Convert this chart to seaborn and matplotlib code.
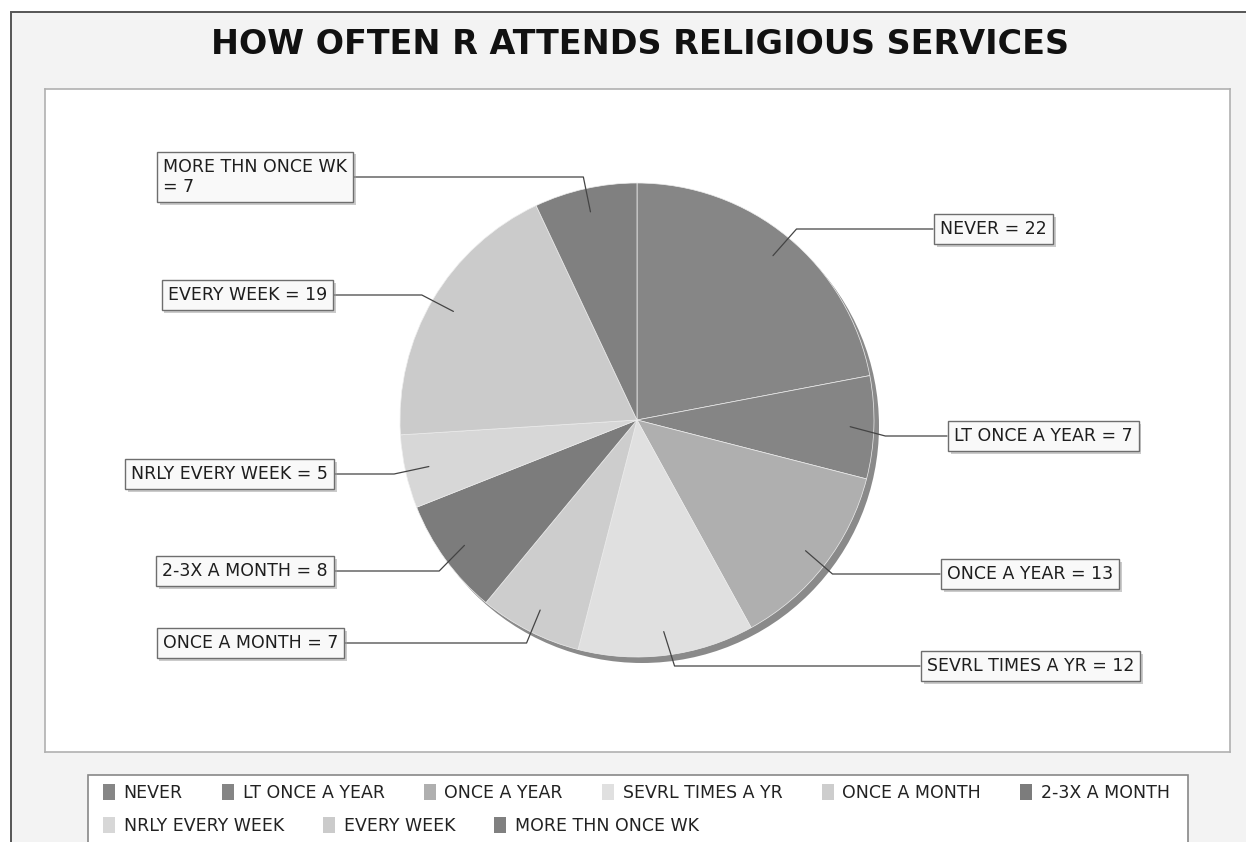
import matplotlib
matplotlib.use("Agg")
import matplotlib.pyplot as plt
import seaborn as sns
import numpy as np
from matplotlib.patches import Rectangle, Circle, Patch
import matplotlib.patheffects as pe

CATEGORIES = ["NEVER", "LT ONCE A YEAR", "ONCE A YEAR", "SEVRL TIMES A YR", "ONCE A MONTH",
              "2-3X A MONTH", "NRLY EVERY WEEK", "EVERY WEEK", "MORE THN ONCE WK"]
COUNTS = [22, 7, 13, 12, 7, 8, 5, 19, 7]
GRAYS = ["#868686", "#858585", "#afafaf", "#e0e0e0", "#cdcdcd",
         "#7c7c7c", "#d7d7d7", "#cbcbcb", "#808080"]
TITLE = "HOW OFTEN R ATTENDS RELIGIOUS SERVICES"

# label box anchor (x of the box edge nearest the pie, y centre) in pixel units, top-down
LABEL_POS = [(933, 229), (947, 436), (940, 574), (920, 666), (345, 643),
             (335, 571), (335, 474), (334, 295), (354, 177)]

W, H = 1246, 842
CX, CY, R = 637, 420, 237

sns.set_theme(style="white")
plt.rcParams["font.family"] = ["DejaVu Sans"]

fig = plt.figure(figsize=(W / 100, H / 100), dpi=100, facecolor="white")

# outer chart background
fig.patches.append(Rectangle((11 / W, -0.1), 1.2, (H - 12) / H + 0.1, transform=fig.transFigure,
                             facecolor="#f3f3f3", edgecolor="#555555", linewidth=1.4, zorder=-10))

# plot panel in pixel data coordinates (y flipped to bottom-up)
x0, x1, y0, y1 = 45, 1230, 89, 752
ax = fig.add_axes([x0 / W, (H - y1) / H, (x1 - x0) / W, (y1 - y0) / H])
ax.set_facecolor("white")

pal = sns.color_palette(GRAYS)
shadow = Circle((CX + 5, H - CY - 6), R, facecolor="#8a8a8a", edgecolor="none", zorder=1)
ax.add_patch(shadow)
wedges, _ = ax.pie(COUNTS, colors=pal, startangle=90, counterclock=False,
                   center=(CX, H - CY), radius=R, frame=True,
                   wedgeprops=dict(edgecolor="#eeeeee", linewidth=0.5))
for w in wedges:
    w.set_zorder(2)

ax.set_xlim(x0, x1)
ax.set_ylim(H - y1, H - y0)
ax.set_aspect("auto")
ax.set_xticks([])
ax.set_yticks([])
for s in ax.spines.values():
    s.set_edgecolor("#b0b0b0")
    s.set_linewidth(1.2)

# labels with leader lines
total = sum(COUNTS)
cum = np.cumsum([0] + COUNTS)
for i, (cat, val) in enumerate(zip(CATEGORIES, COUNTS)):
    mid = (cum[i] + val / 2) / total * 2 * np.pi  # clockwise from top
    ax_x = CX + 0.9 * R * np.sin(mid)
    ax_y = CY - 0.9 * R * np.cos(mid)
    lx, ly = LABEL_POS[i]
    right = lx > CX
    dy = ly - CY
    reach = (1.05 * R) ** 2 - dy ** 2
    ex = CX + (1 if right else -1) * np.sqrt(max(reach, 0))
    if right:
        ex = max(ex, ax_x)
    else:
        ex = min(ex, ax_x)
    ax.plot([ax_x, ex, lx], [H - ax_y, H - ly, H - ly], color="#444444", lw=0.9, zorder=3)
    txt = f"{cat}\n= {val}" if cat == "MORE THN ONCE WK" else f"{cat} = {val}"
    t = ax.text(lx + (7 if right else -7), H - ly, txt, ha="left" if right else "right", va="center",
                fontsize=12.5, color="#1e1e1e", multialignment="left", zorder=4,
                bbox=dict(boxstyle="square,pad=0.35", facecolor="#f9f9f9", edgecolor="#6e6e6e", linewidth=1.0))
    t.get_bbox_patch().set_path_effects([pe.SimplePatchShadow(offset=(2, -2), shadow_rgbFace="#999999", alpha=0.5),
                                         pe.Normal()])

fig.text(640 / W, 1 - 45 / H, TITLE, ha="center", va="center", fontsize=24,
         fontweight="bold", color="#111111")

# legend box and two flow rows
fig.patches.append(Rectangle((88 / W, -0.02), (1188 - 88) / W, (H - 775) / H + 0.02, transform=fig.transFigure,
                             facecolor="white", edgecolor="#888888", linewidth=1.2, zorder=-5))
handles = [Patch(facecolor=c, edgecolor="none") for c in pal]
row_kw = dict(frameon=False, handlelength=0.7, handleheight=1.0, handletextpad=0.5,
              columnspacing=2.25, fontsize=12.5, borderpad=0, labelcolor="#222222")
fig.legend(handles[:6], CATEGORIES[:6], ncol=6, loc="center left",
           bbox_to_anchor=(94 / W, 1 - 793 / H), **row_kw)
fig.legend(handles[6:], CATEGORIES[6:], ncol=3, loc="center left",
           bbox_to_anchor=(94 / W, 1 - 826 / H), **row_kw)

fig.savefig("out.png", dpi=100)
